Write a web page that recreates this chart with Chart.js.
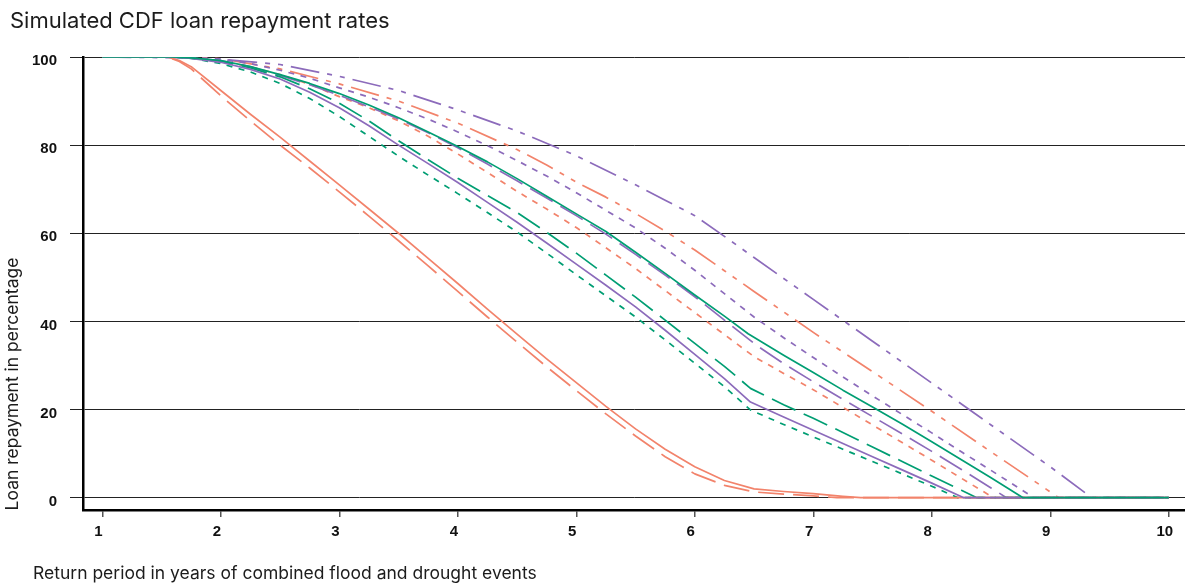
<!DOCTYPE html>
<html>
<head>
<meta charset="utf-8">
<title>Simulated CDF loan repayment rates</title>
<script src="https://cdn.jsdelivr.net/npm/chart.js@4.4.1/dist/chart.umd.min.js"></script>
<style>
  html, body { margin: 0; padding: 0; background: #ffffff; }
  #wrap { width: 1185px; height: 584px; position: relative; }
</style>
</head>
<body>
<div id="wrap"><canvas id="chart" width="1185" height="584"></canvas></div>
<script>
// Text
const chartTitle = 'Simulated CDF loan repayment rates';
const xAxisTitle = 'Return period in years of combined flood and drought events';
const yAxisTitle = 'Loan repayment in percentage';

// Tick labels
const xTicks = [1, 2, 3, 4, 5, 6, 7, 8, 9, 10];
const yTicks = [0, 20, 40, 60, 80, 100];

// Repayment curves: [return period (years), repayment (%)]
const salmonSolid = [[1,100],[1.55,100],[1.65,99.2],[1.75,97.8],[2,92.4],[2.25,87],[2.5,81.8],[2.75,76.4],[3,71],[3.25,65.5],[3.5,60],[3.75,54.3],[4,48.6],[4.25,42.8],[4.5,37.1],[4.75,31.5],[5,26.1],[5.25,20.7],[5.5,15.6],[5.75,11],[6,7],[6.25,3.9],[6.5,2],[6.75,1.4],[7,0.9],[7.25,0.3],[7.4,0],[10,0]];
const salmonLongDash = [[1,100],[1.55,100],[1.65,99],[1.75,97.3],[2,91.2],[2.25,85.5],[2.5,80],[2.75,74.8],[3,69.4],[3.25,63.9],[3.5,58.3],[3.75,52.6],[4,46.8],[4.25,41],[4.5,35.3],[4.75,29.7],[5,24.3],[5.25,19],[5.5,14],[5.75,9.3],[6,5.4],[6.25,2.8],[6.5,1.3],[6.75,0.8],[7,0.4],[7.2,0],[10,0]];
const salmonShortDash = [[1,100],[1.6,100],[1.75,99.8],[2,99],[2.25,97.8],[2.5,96],[2.75,93.8],[3,91],[3.25,88.5],[3.5,85.5],[3.75,82],[4,78],[4.25,73.8],[4.5,69.5],[4.75,65.5],[5,61.3],[5.25,56.7],[5.5,52],[5.75,47],[6,42],[6.25,37],[6.5,32],[6.75,28.2],[7,24.5],[7.25,20.5],[7.5,16.5],[7.75,12.5],[8,8.5],[8.25,4.4],[8.52,0],[10,0]];
const salmonDashDot = [[1,100],[1.75,100],[2,99.6],[2.5,97.3],[3,93.9],[3.5,90],[4,85],[4.5,79],[4.75,75.5],[5,71.6],[5.25,68.2],[5.5,64.5],[5.75,60.5],[6,56.2],[6.25,51.5],[6.5,46.8],[7,37.5],[7.5,28.6],[8,19.6],[8.5,10.4],[9,1.3],[9.07,0],[10,0]];

const purpleSolid = [[1,100],[1.6,100],[1.75,99.7],[2,98.8],[2.25,97.2],[2.5,95],[2.75,92],[3,88.5],[3.25,84.4],[3.5,80],[3.75,75.8],[4,71.5],[4.25,67],[4.5,62.5],[4.75,57.8],[5,53],[5.25,48.2],[5.5,43.3],[5.75,38],[6,32.5],[6.25,27],[6.47,21.7],[6.75,18.3],[7,15.3],[7.25,12.3],[7.5,9.3],[7.75,6.3],[8,3.3],[8.27,0],[10,0]];
const purpleLongDash = [[1,100],[1.6,100],[1.75,99.8],[2,99.2],[2.25,97.8],[2.5,95.8],[2.75,93.7],[3,91.3],[3.25,88.7],[3.5,85.9],[3.75,82.8],[4,79.4],[4.25,75.7],[4.5,71.9],[4.75,68],[5,64],[5.25,59.8],[5.5,55.2],[5.75,50.5],[6,45.6],[6.25,40.3],[6.52,34.6],[6.75,30.4],[7,26.3],[7.25,22.3],[7.5,18.4],[7.75,14.5],[8,10.5],[8.25,6.4],[8.5,2.2],[8.63,0],[10,0]];
const purpleShortDash = [[1,100],[1.6,100],[1.75,99.8],[2,99.5],[2.25,98.5],[2.5,97],[2.75,95.2],[3,93],[3.25,90.9],[3.5,88.5],[3.75,85.9],[4,83],[4.25,79.9],[4.5,76.5],[4.75,73],[5,69.2],[5.25,65.2],[5.5,61.2],[5.75,56.6],[6,51.6],[6.25,46.3],[6.5,41],[6.75,36.3],[7,31.8],[7.25,27.4],[7.5,23.1],[7.75,18.9],[8,14.7],[8.25,10.4],[8.5,6.2],[8.75,1.9],[8.86,0],[10,0]];
const purpleDashDot = [[1,100],[1.75,99.8],[2,99.5],[2.5,98.3],[3,95.6],[3.5,92.4],[4,88],[4.5,83.2],[5,77.6],[5.5,71],[5.75,67.5],[6,64],[6.25,59.3],[6.5,54.5],[7,45],[7.5,35.5],[8,26],[8.5,16.5],[9,7],[9.35,0],[10,0]];

const greenShortDash = [[1,100],[1.6,100],[1.75,99.7],[2,98.5],[2.25,96.6],[2.5,94],[2.75,90.6],[3,86.5],[3.25,82],[3.5,77.5],[3.75,73.2],[4,69],[4.25,64.7],[4.5,60.3],[4.75,55.5],[5,50.6],[5.25,45.8],[5.5,41],[5.75,35.8],[6,30.5],[6.25,25.2],[6.47,19.9],[6.75,16.6],[7,13.8],[7.25,11],[7.5,8.2],[7.75,5.4],[8,2.6],[8.22,0],[10,0]];
const greenLongDash = [[1,100],[1.6,100],[1.75,99.8],[2,99],[2.25,97.5],[2.5,95.5],[2.75,92.8],[3,89.5],[3.25,85.5],[3.5,81],[3.75,76.7],[4,72.5],[4.25,68.6],[4.5,64.7],[4.75,60.2],[5,55.5],[5.25,50.5],[5.5,45.5],[5.75,40.3],[6,35],[6.25,29.8],[6.47,24.8],[6.75,21.1],[7,18],[7.25,14.8],[7.5,11.5],[7.75,8.2],[8,4.9],[8.25,1.7],[8.38,0],[10,0]];
const greenSolid = [[1,100],[1.6,100],[1.75,99.8],[2,99.2],[2.25,97.8],[2.5,96],[2.75,94],[3,91.7],[3.25,89.1],[3.5,86.2],[3.75,83],[4,79.7],[4.25,76.2],[4.5,72.4],[4.75,68.4],[5,64.4],[5.25,60.4],[5.5,55.7],[5.75,50.9],[6,46],[6.25,41.2],[6.45,37.2],[6.75,32.3],[7,28.4],[7.25,24.4],[7.5,20.6],[7.75,16.7],[8,12.7],[8.25,8.6],[8.5,4.5],[8.77,0],[10,0]];

const SALMON = '#F2836B';
const PURPLE = '#8C6BBB';
const GREEN = '#009E73';

const DASH_SOLID = [];
const DASH_LONG = [26, 9];
const DASH_SHORT = [6, 6.5];
const DASH_DOTDASH = [29, 8, 5, 8, 5, 8];

function series(points, color, dash) {
  return {
    data: points.map(p => ({ x: p[0], y: p[1] })),
    borderColor: color,
    borderWidth: 1.7,
    borderDash: dash,
    borderCapStyle: 'butt',
    borderJoinStyle: 'round',
    pointRadius: 0,
    pointHoverRadius: 0,
    tension: 0,
    fill: false
  };
}

// Earlier entries are painted on top; solid curves sit above the dashed ones
const datasets = [
  series(greenSolid, GREEN, DASH_SOLID),
  series(purpleSolid, PURPLE, DASH_SOLID),
  series(salmonSolid, SALMON, DASH_SOLID),
  series(greenLongDash, GREEN, DASH_LONG),
  series(greenShortDash, GREEN, DASH_SHORT),
  series(purpleLongDash, PURPLE, DASH_LONG),
  series(purpleShortDash, PURPLE, DASH_SHORT),
  series(purpleDashDot, PURPLE, DASH_DOTDASH),
  series(salmonLongDash, SALMON, DASH_LONG),
  series(salmonShortDash, SALMON, DASH_SHORT),
  series(salmonDashDot, SALMON, DASH_DOTDASH)
];

// Title and axis titles drawn on the canvas
const titlesPlugin = {
  id: 'titles',
  afterDraw(chart) {
    const ctx = chart.ctx;
    ctx.save();
    ctx.fillStyle = '#1c1c1c';
    ctx.textAlign = 'left';
    ctx.textBaseline = 'alphabetic';
    ctx.font = '22px Inter, "Noto Sans", sans-serif';
    ctx.fillText(chartTitle, 10, 28);
    ctx.font = '17.5px Inter, "Noto Sans", sans-serif';
    ctx.fillText(xAxisTitle, 33, 579);
    ctx.translate(18, 384);
    ctx.rotate(-Math.PI / 2);
    ctx.textAlign = 'center';
    ctx.fillText(yAxisTitle, 0, 0);
    ctx.restore();
  }
};

const tickFont = { family: '"Liberation Sans", Arial, sans-serif', size: 15, weight: 'bold' };

new Chart(document.getElementById('chart'), {
  type: 'line',
  data: { datasets },
  plugins: [titlesPlugin],
  options: {
    responsive: false,
    devicePixelRatio: 1,
    animation: false,
    events: [],
    layout: { padding: { top: 57, right: 0, bottom: 0, left: 0 } },
    plugins: {
      legend: { display: false },
      tooltip: { enabled: false },
      title: { display: false }
    },
    scales: {
      x: {
        type: 'linear',
        min: 0.837,
        max: 10.137,
        afterFit(scale) { scale.height = 74; },
        afterBuildTicks(scale) { scale.ticks = xTicks.map(v => ({ value: v })); },
        grid: { drawOnChartArea: false, drawTicks: true, tickLength: 7, color: '#555', lineWidth: 1.5 },
        border: { display: true, color: '#000', width: 2.5 },
        ticks: {
          autoSkip: false,
          maxRotation: 0,
          padding: 6,
          labelOffset: -4,
          color: '#111',
          font: tickFont,
          callback: v => String(v)
        }
      },
      y: {
        type: 'linear',
        min: -2.8,
        max: 100,
        afterFit(scale) { scale.width = 83; },
        afterBuildTicks(scale) { scale.ticks = yTicks.map(v => ({ value: v })); },
        grid: { drawOnChartArea: true, drawTicks: true, tickLength: 13, color: '#222', lineWidth: 1 },
        border: { display: true, color: '#000', width: 2.5 },
        ticks: {
          autoSkip: false,
          padding: 13,
          labelOffset: 4,
          color: '#111',
          font: tickFont,
          callback: v => String(v)
        }
      }
    }
  }
});
</script>
</body>
</html>
